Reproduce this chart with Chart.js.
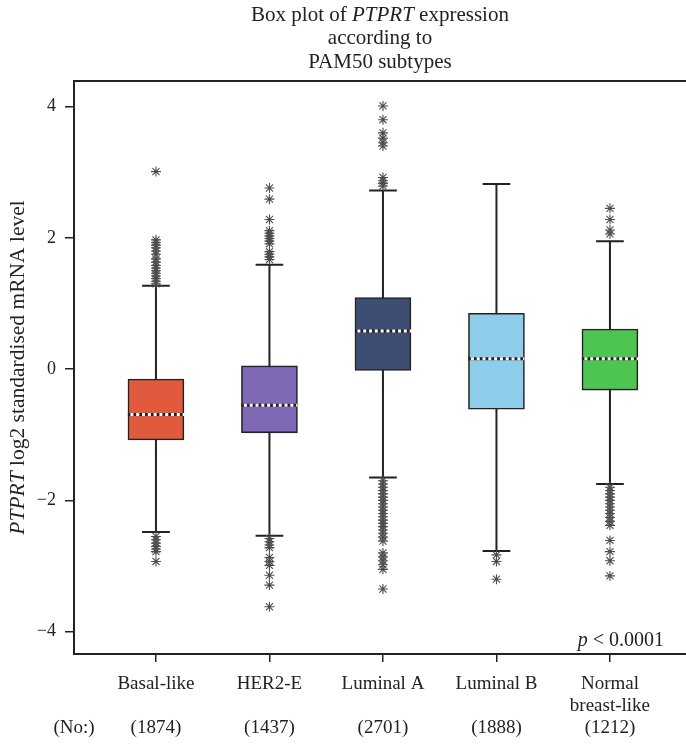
<!DOCTYPE html>
<html><head><meta charset="utf-8">
<script src="https://cdn.jsdelivr.net/npm/chart.js@4"></script>
<style>html,body{margin:0;padding:0;background:#fff}#wrap{width:686px;height:744px;position:relative}</style>
</head><body><div id="wrap"><canvas id="c" width="686" height="744"></canvas></div>
<script>
// ---------------- data ----------------
const categories = ['Basal-like', 'HER2-E', 'Luminal A', 'Luminal B', 'Normal breast-like'];
const labelLines = [['Basal-like'], ['HER2-E'], ['Luminal A'], ['Luminal B'], ['Normal', 'breast-like']];
const counts = [1874, 1437, 2701, 1888, 1212];
const whiskerLow  = [-2.48, -2.54, -1.65, -2.77, -1.75];
const q1          = [-1.08, -0.97, -0.02, -0.61, -0.32];
const median      = [-0.69, -0.55,  0.58,  0.16,  0.16];
const q3          = [-0.15,  0.05,  1.09,  0.85,  0.61];
const whiskerHigh = [ 1.27,  1.59,  2.72,  2.82,  1.95];
const outliersHigh = [
  [3.01, 1.97, 1.93, 1.89, 1.85, 1.80, 1.75, 1.68, 1.63, 1.58, 1.54, 1.50, 1.46, 1.42, 1.38, 1.34, 1.30],
  [2.76, 2.59, 2.28, 2.11, 2.07, 2.03, 1.99, 1.95, 1.91, 1.79, 1.75, 1.71, 1.67],
  [4.01, 3.80, 3.60, 3.52, 3.45, 3.40, 2.92, 2.87, 2.83, 2.79],
  [],
  [2.45, 2.28, 2.12, 2.06]
];
const outliersLow = [
  [-2.55, -2.60, -2.65, -2.70, -2.74, -2.78, -2.93],
  [-2.58, -2.63, -2.68, -2.72, -2.87, -2.93, -2.99, -3.14, -3.29, -3.62],
  [-1.70, -1.75, -1.80, -1.85, -1.90, -1.95, -2.00, -2.05, -2.10, -2.15, -2.20, -2.25, -2.30, -2.35, -2.40,
   -2.45, -2.50, -2.56, -2.62, -2.80, -2.86, -2.92, -2.98, -3.05, -3.35],
  [-2.83, -2.93, -3.20],
  [-1.80, -1.85, -1.90, -1.95, -2.00, -2.05, -2.10, -2.15, -2.20, -2.26, -2.32, -2.38, -2.61, -2.78, -2.92, -3.15]
];
const yTicks = [-4, -2, 0, 2, 4];
const noLabel = '(No:)';
const titleLines = [
  [['Box plot of ', false], ['PTPRT', true], [' expression', false]],
  [['according to', false]],
  [['PAM50 subtypes', false]]
];
const yTitleRuns = [['PTPRT', true], [' log2 standardised mRNA level', false]];
const pRuns = [['p', true], [' < 0.0001', false]];

// ---------------- styles ----------------
const boxColors = ['#E25A3D', '#7F68B5', '#3E4D73', '#8DCDE9', '#4EC451'];
const ink = '#222222';
const X_MIN = -0.722, X_MAX = 4.67;
const BOX_PX = 56;
const BOX_HALF = 0.247, CAP_HALF = 0.122;
const serif = '"Liberation Serif", "Times New Roman", serif';

// ---------------- derived datasets ----------------
const boxData = categories.map((c, i) => ({x: i, y: [q1[i], q3[i]]}));
const whiskerData = [];
const capData = [];
const medianData = [];
const outlierData = [];
categories.forEach((c, i) => {
  whiskerData.push({x: i, y: whiskerLow[i]}, {x: i, y: whiskerHigh[i]}, {x: i, y: null});
  [whiskerLow[i], whiskerHigh[i]].forEach(v => {
    capData.push({x: i - CAP_HALF, y: v}, {x: i + CAP_HALF, y: v}, {x: i, y: null});
  });
  medianData.push({x: i - BOX_HALF, y: median[i]}, {x: i + BOX_HALF, y: median[i]}, {x: i, y: null});
  outliersHigh[i].concat(outliersLow[i]).forEach(v => outlierData.push({x: i, y: v}));
});

const textPlugin = {
  id: 'texts',
  afterDraw(chart) {
    const {ctx, chartArea: a} = chart;
    ctx.save();
    ctx.fillStyle = ink;
    ctx.textBaseline = 'middle';
    function drawRuns(runs, cx, cy, size, align) {
      const widths = runs.map(r => { ctx.font = (r[1] ? 'italic ' : '') + size + 'px ' + serif; return ctx.measureText(r[0]).width; });
      const total = widths.reduce((s, w) => s + w, 0);
      let x = align === 'right' ? cx - total : cx - total / 2;
      ctx.textAlign = 'left';
      runs.forEach((r, k) => { ctx.font = (r[1] ? 'italic ' : '') + size + 'px ' + serif; ctx.fillText(r[0], x, cy); x += widths[k]; });
    }
    const mid = (a.left + a.right) / 2;
    titleLines.forEach((runs, k) => drawRuns(runs, mid, 15 + k * 23.5, 21));
    ctx.save();
    ctx.translate(18, (a.top + a.bottom) / 2);
    ctx.rotate(-Math.PI / 2);
    drawRuns(yTitleRuns, 0, 0, 21.5);
    ctx.restore();
    drawRuns(pRuns, 664, a.bottom - 13, 20, 'right');
    ctx.restore();
  }
};

const zeroPad = s => { s.paddingLeft = 0; s.paddingRight = 0; s.paddingTop = 0; s.paddingBottom = 0; };

new Chart(document.getElementById('c'), {
  type: 'bar',
  data: {
    datasets: [
      {type: 'line', data: whiskerData, borderColor: ink, borderWidth: 2, pointRadius: 0, spanGaps: false, order: 5, xAxisID: 'x', yAxisID: 'y'},
      {type: 'line', data: capData, borderColor: ink, borderWidth: 2, pointRadius: 0, spanGaps: false, order: 4, xAxisID: 'x', yAxisID: 'y'},
      {type: 'bar', data: boxData, backgroundColor: boxColors, borderColor: ink, borderWidth: 1.6, borderSkipped: false,
       barThickness: BOX_PX, order: 3, xAxisID: 'x', yAxisID: 'y'},
      {type: 'line', data: medianData, borderColor: ink, borderWidth: 3, pointRadius: 0, spanGaps: false, order: 2, xAxisID: 'x', yAxisID: 'y'},
      {type: 'line', data: medianData, borderColor: '#ffffff', borderWidth: 3, borderDash: [3, 2.8], borderDashOffset: -2.5,
       pointRadius: 0, spanGaps: false, order: 1, xAxisID: 'x', yAxisID: 'y'},
      {type: 'scatter', data: outlierData, pointStyle: 'star', pointRadius: 5, borderColor: '#4d4d4d', borderWidth: 1.1,
       backgroundColor: 'rgba(0,0,0,0)', showLine: false, order: 0, xAxisID: 'x', yAxisID: 'y'}
    ]
  },
  options: {
    responsive: false,
    animation: false,
    devicePixelRatio: 1,
    layout: {autoPadding: false, padding: {top: 81, left: 0, right: 0, bottom: 0}},
    plugins: {legend: {display: false}, tooltip: {enabled: false}, title: {display: false}},
    scales: {
      x: {
        type: 'linear', position: 'bottom', min: X_MIN, max: X_MAX, offset: false,
        afterBuildTicks: s => { s.ticks = [{value: X_MIN}].concat(categories.map((c, i) => ({value: i}))); },
        afterFit: s => { s.height = 90; zeroPad(s); },
        ticks: {
          autoSkip: false, maxRotation: 0, minRotation: 0, padding: 11, color: ink,
          font: {family: serif, size: 19, lineHeight: 1.16},
          callback: (v) => {
            if (v === X_MIN) return ['', '', noLabel];
            const i = Math.round(v);
            const l = labelLines[i];
            return [l[0], l[1] || '', '(' + counts[i] + ')'];
          }
        },
        grid: {offset: false, drawOnChartArea: false, drawTicks: true, tickLength: 8, lineWidth: 1.5,
               color: c => (c.tick && c.tick.value === X_MIN) ? 'rgba(0,0,0,0)' : ink},
        border: {display: true, color: ink, width: 2}
      },
      xTop: {
        type: 'linear', position: 'top', min: X_MIN, max: X_MAX, offset: false,
        ticks: {display: false}, grid: {display: false, offset: false},
        afterFit: s => { s.height = 0; zeroPad(s); },
        border: {display: true, color: ink, width: 2}
      },
      y: {
        type: 'linear', min: -4.34, max: 4.39,
        afterBuildTicks: s => { s.ticks = yTicks.map(v => ({value: v})); },
        afterFit: s => { s.width = 74; zeroPad(s); },
        ticks: {padding: 9, color: ink, font: {family: serif, size: 18},
                callback: v => v < 0 ? '\u2212' + Math.abs(v) : String(v)},
        grid: {drawOnChartArea: false, drawTicks: true, tickLength: 9, lineWidth: 1.5, color: ink},
        border: {display: true, color: ink, width: 2}
      }
    }
  },
  plugins: [textPlugin]
});
</script>
</body></html>
